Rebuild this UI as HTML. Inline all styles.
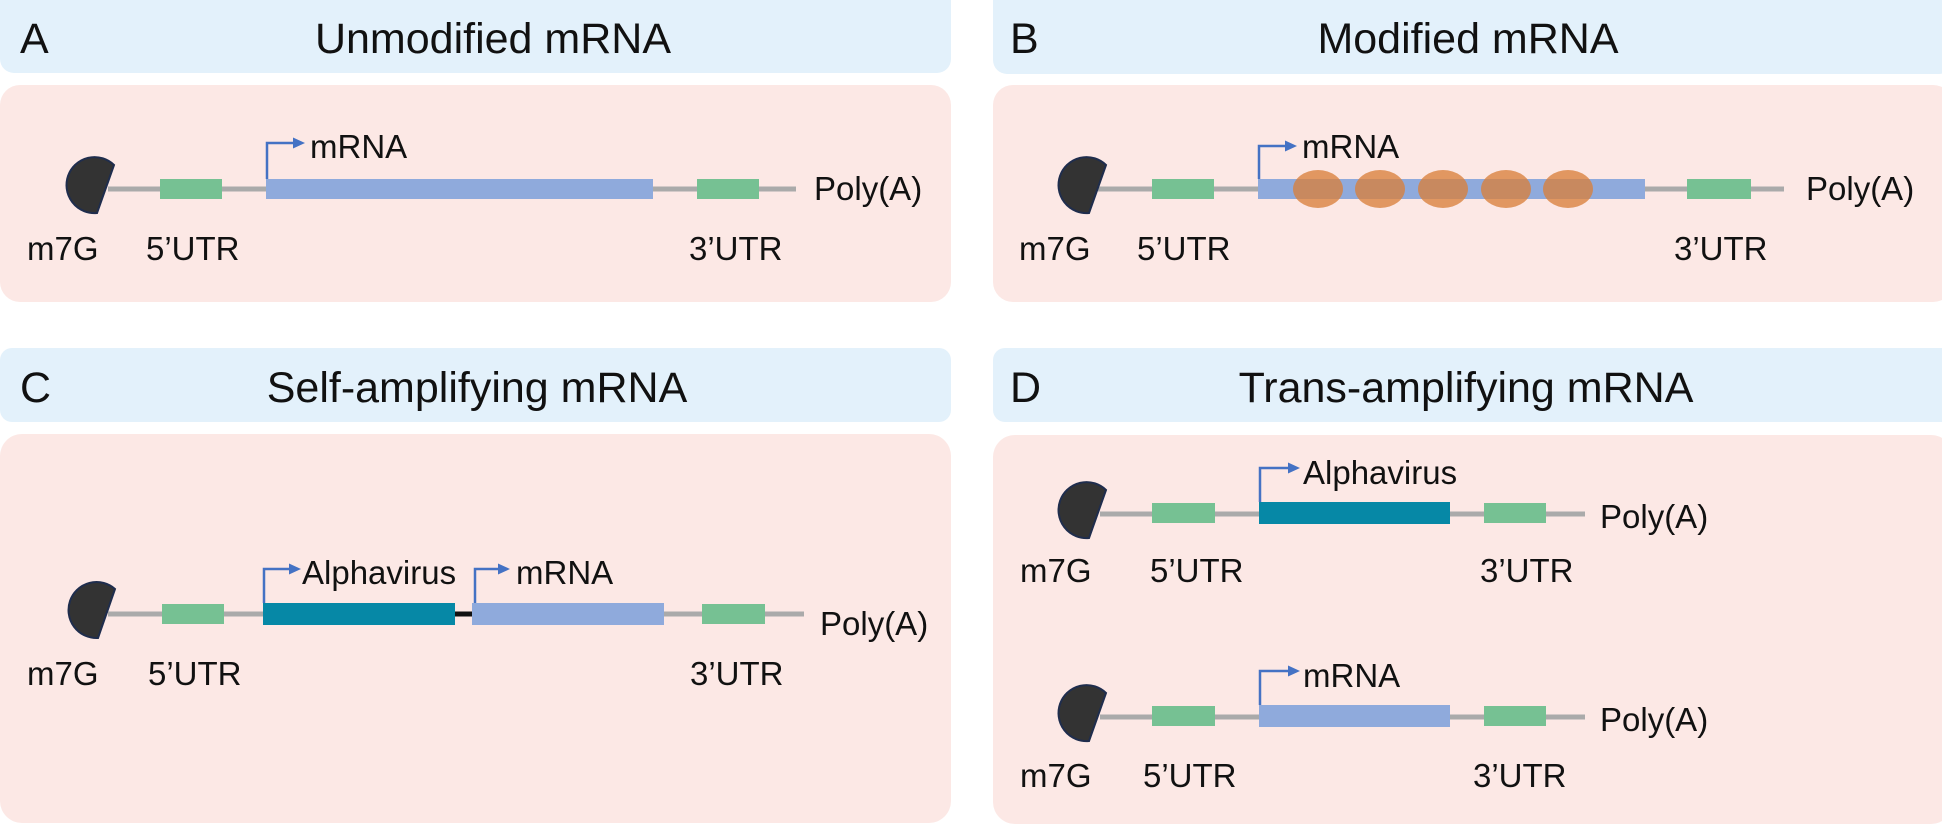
<!DOCTYPE html>
<html><head><meta charset="utf-8"><style>
html,body{margin:0;padding:0;background:#fff;}
svg{display:block;}
text{font-family:"Liberation Sans",Arial,sans-serif;fill:#111;}
</style></head><body>
<svg width="1942" height="824" viewBox="0 0 1942 824" xmlns="http://www.w3.org/2000/svg">
<defs>
<marker id="ah" markerWidth="12" markerHeight="12" refX="9" refY="6" orient="auto" markerUnits="userSpaceOnUse">
<path d="M0,0.5 L12,6 L0,11.5 Z" fill="#4472c4"/></marker>
</defs>
<!-- panels -->
<rect x="0" y="-14" width="951" height="87" rx="14" fill="#e3f1fb"/>
<rect x="993" y="-14" width="960" height="88" rx="14" fill="#e3f1fb"/>
<rect x="0" y="85" width="951" height="217" rx="20" fill="#fce8e5"/>
<rect x="993" y="85" width="960" height="217" rx="20" fill="#fce8e5"/>
<rect x="0" y="348" width="951" height="74" rx="12" fill="#e3f1fb"/>
<rect x="993" y="348" width="960" height="74" rx="12" fill="#e3f1fb"/>
<rect x="0" y="434" width="951" height="389" rx="22" fill="#fce8e5"/>
<rect x="993" y="435" width="960" height="389" rx="22" fill="#fce8e5"/>

<g font-size="43">
<text x="20" y="53">A</text>
<text x="493" y="53" text-anchor="middle">Unmodified mRNA</text>
<text x="1010" y="53">B</text>
<text x="1468" y="53" text-anchor="middle">Modified mRNA</text>
<text x="20" y="402">C</text>
<text x="477" y="402" text-anchor="middle">Self-amplifying mRNA</text>
<text x="1010" y="402">D</text>
<text x="1466" y="402" text-anchor="middle">Trans-amplifying mRNA</text>
</g>

<!-- Panel A -->
<g>
<line x1="108" y1="189" x2="796" y2="189" stroke="#aaa" stroke-width="5"/>
<path d="M114 165 L97 213 A28 28 0 1 1 114 165 Z" fill="#333" stroke="#1f2d4d" stroke-width="2"/>
<rect x="160" y="179" width="62" height="20" fill="#76c193"/>
<rect x="266" y="179" width="387" height="20" fill="#8faadc"/>
<rect x="697" y="179" width="62" height="20" fill="#76c193"/>
<polyline points="267,179 267,143 302,143" fill="none" stroke="#4472c4" stroke-width="2.5" marker-end="url(#ah)"/>
<g font-size="33">
<text x="310" y="158">mRNA</text>
<text x="814" y="200">Poly(A)</text>
<text x="27" y="260">m7G</text>
<text x="146" y="260">5’UTR</text>
<text x="689" y="260">3’UTR</text>
</g>
</g>

<!-- Panel B -->
<g>
<line x1="1098" y1="189" x2="1784" y2="189" stroke="#aaa" stroke-width="5"/>
<path d="M1106 165 L1089 213 A28 28 0 1 1 1106 165 Z" fill="#333" stroke="#1f2d4d" stroke-width="2"/>
<rect x="1152" y="179" width="62" height="20" fill="#76c193"/>
<rect x="1258" y="179" width="387" height="20" fill="#8faadc"/>
<rect x="1687" y="179" width="64" height="20" fill="#76c193"/>
<g fill="#d9803c" fill-opacity="0.78">
<ellipse cx="1318" cy="189" rx="25" ry="19"/>
<ellipse cx="1380" cy="189" rx="25" ry="19"/>
<ellipse cx="1443" cy="189" rx="25" ry="19"/>
<ellipse cx="1506" cy="189" rx="25" ry="19"/>
<ellipse cx="1568" cy="189" rx="25" ry="19"/>
</g>
<polyline points="1259,179 1259,146 1294,146" fill="none" stroke="#4472c4" stroke-width="2.5" marker-end="url(#ah)"/>
<g font-size="33">
<text x="1302" y="158">mRNA</text>
<text x="1806" y="200">Poly(A)</text>
<text x="1019" y="260">m7G</text>
<text x="1137" y="260">5’UTR</text>
<text x="1674" y="260">3’UTR</text>
</g>
</g>

<!-- Panel C -->
<g>
<line x1="108" y1="614" x2="804" y2="614" stroke="#aaa" stroke-width="5"/>
<line x1="455" y1="614" x2="472" y2="614" stroke="#111" stroke-width="5"/>
<path d="M115 589 L98 638 A28 28 0 1 1 115 589 Z" fill="#333" stroke="#1f2d4d" stroke-width="2"/>
<rect x="162" y="604" width="62" height="20" fill="#76c193"/>
<rect x="263" y="603" width="192" height="22" fill="#0688a6"/>
<rect x="472" y="603" width="192" height="22" fill="#8faadc"/>
<rect x="702" y="604" width="63" height="20" fill="#76c193"/>
<polyline points="264,603 264,569 298,569" fill="none" stroke="#4472c4" stroke-width="2.5" marker-end="url(#ah)"/>
<polyline points="475,603 475,569 507,569" fill="none" stroke="#4472c4" stroke-width="2.5" marker-end="url(#ah)"/>
<g font-size="33">
<text x="302" y="584">Alphavirus</text>
<text x="516" y="584">mRNA</text>
<text x="820" y="635">Poly(A)</text>
<text x="27" y="685">m7G</text>
<text x="148" y="685">5’UTR</text>
<text x="690" y="685">3’UTR</text>
</g>
</g>

<!-- Panel D row 1 -->
<g>
<line x1="1100" y1="514" x2="1585" y2="514" stroke="#aaa" stroke-width="5"/>
<path d="M1106 490 L1089 538 A28 28 0 1 1 1106 490 Z" fill="#333" stroke="#1f2d4d" stroke-width="2"/>
<rect x="1152" y="503" width="63" height="20" fill="#76c193"/>
<rect x="1259" y="502" width="191" height="22" fill="#0688a6"/>
<rect x="1484" y="503" width="62" height="20" fill="#76c193"/>
<polyline points="1260,502 1260,468 1297,468" fill="none" stroke="#4472c4" stroke-width="2.5" marker-end="url(#ah)"/>
<g font-size="33">
<text x="1303" y="484">Alphavirus</text>
<text x="1600" y="528">Poly(A)</text>
<text x="1020" y="582">m7G</text>
<text x="1150" y="582">5’UTR</text>
<text x="1480" y="582">3’UTR</text>
</g>
</g>
<!-- Panel D row 2 -->
<g>
<line x1="1100" y1="717" x2="1585" y2="717" stroke="#aaa" stroke-width="5"/>
<path d="M1106 693 L1089 741 A28 28 0 1 1 1106 693 Z" fill="#333" stroke="#1f2d4d" stroke-width="2"/>
<rect x="1152" y="706" width="63" height="20" fill="#76c193"/>
<rect x="1259" y="705" width="191" height="22" fill="#8faadc"/>
<rect x="1484" y="706" width="62" height="20" fill="#76c193"/>
<polyline points="1260,705 1260,671 1297,671" fill="none" stroke="#4472c4" stroke-width="2.5" marker-end="url(#ah)"/>
<g font-size="33">
<text x="1303" y="687">mRNA</text>
<text x="1600" y="731">Poly(A)</text>
<text x="1020" y="787">m7G</text>
<text x="1143" y="787">5’UTR</text>
<text x="1473" y="787">3’UTR</text>
</g>
</g>
</svg>
</body></html>
